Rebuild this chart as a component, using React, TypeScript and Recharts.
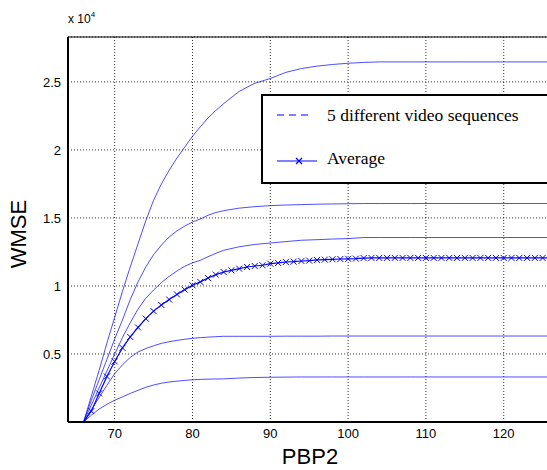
import React from 'react';
import { LineChart, Line, XAxis, YAxis, CartesianGrid, ReferenceLine, Label } from 'recharts';

// PBP2 knots used by the five thin curves
const seqX = [64, 65, 66, 67, 68, 69, 70, 71, 72, 73, 74, 75, 76, 77, 78, 79, 80, 81, 82, 83, 84, 86, 88, 90, 92, 94, 96, 98, 100, 102, 104, 108, 114, 120, 126];
const seq1 = [0, 0, 0, 1900, 3800, 5800, 7700, 9600, 11400, 13100, 14800, 16300, 17500, 18500, 19400, 20200, 21000, 21700, 22350, 22900, 23400, 24300, 24900, 25250, 25700, 25980, 26160, 26280, 26370, 26430, 26470, 26470, 26470, 26470, 26470];
const seq2 = [0, 0, 0, 1600, 3100, 4600, 6100, 7500, 9000, 10300, 11400, 12300, 13000, 13600, 14050, 14400, 14700, 14920, 15200, 15400, 15535, 15720, 15830, 15905, 15950, 15980, 16010, 16030, 16045, 16060, 16060, 16060, 16060, 16060, 16060];
const seq3 = [0, 0, 0, 1250, 2500, 3750, 5000, 6200, 7300, 8300, 9100, 9700, 10250, 10700, 11100, 11450, 11700, 11885, 12150, 12400, 12620, 12880, 13050, 13155, 13260, 13360, 13400, 13450, 13480, 13560, 13560, 13560, 13560, 13560, 13560];
const seq4 = [0, 0, 0, 900, 1800, 2700, 3550, 4200, 4750, 5150, 5400, 5600, 5780, 5900, 6000, 6080, 6150, 6200, 6240, 6270, 6300, 6300, 6300, 6300, 6310, 6310, 6310, 6320, 6320, 6320, 6320, 6320, 6320, 6320, 6320];
const seq5 = [0, 0, 0, 500, 950, 1300, 1600, 1850, 2100, 2330, 2550, 2720, 2850, 2940, 3000, 3060, 3100, 3130, 3150, 3160, 3170, 3230, 3270, 3290, 3300, 3310, 3310, 3310, 3310, 3310, 3310, 3310, 3310, 3310, 3310];

// average curve, one value per integer PBP2 from 64 to 126
const avgX = [64, 65, 66, 67, 68, 69, 70, 71, 72, 73, 74, 75, 76, 77, 78, 79, 80, 81, 82, 83, 84, 85, 86, 87, 88, 89, 90, 91, 92, 93, 94, 95, 96, 97, 98, 99, 100, 101, 102, 103, 104, 105, 106, 107, 108, 109, 110, 111, 112, 113, 114, 115, 116, 117, 118, 119, 120, 121, 122, 123, 124, 125, 126];
const avgY = [0, 0, 0, 800, 2100, 3350, 4450, 5450, 6250, 6950, 7600, 8150, 8600, 9000, 9380, 9730, 10050, 10300, 10580, 10830, 11025, 11150, 11275, 11395, 11465, 11520, 11640, 11690, 11760, 11790, 11835, 11860, 11910, 11935, 11960, 11980, 11995, 12010, 12050, 12060, 12060, 12060, 12060, 12060, 12060, 12060, 12060, 12060, 12060, 12060, 12060, 12060, 12060, 12060, 12060, 12060, 12060, 12060, 12060, 12060, 12060, 12060, 12060];

const xTicks = [70, 80, 90, 100, 110, 120];
const yTicks = [0, 5000, 10000, 15000, 20000, 25000];

const toPts = (xs: number[], ys: number[]) => xs.map((x, i) => ({ x, y: ys[i] }));
const sequences = [seq1, seq2, seq3, seq4, seq5].map(s => toPts(seqX, s));
const avgData = toPts(avgX, avgY);

const SANS = '"Liberation Sans", Arial, sans-serif';
const SERIF = '"Liberation Serif", "Times New Roman", serif';
const BLUE = '#0000ff';

function CrossDot(props: any) {
  const { cx, cy, payload } = props;
  if (cx == null || cy == null || !payload || payload.y === 0) return null;
  const r = 3;
  return (
    <path
      d={`M${cx - r},${cy - r}L${cx + r},${cy + r}M${cx - r},${cy + r}L${cx + r},${cy - r}`}
      stroke={BLUE}
      strokeWidth={1}
      fill="none"
    />
  );
}

export default function App() {
  return (
    <div style={{ position: 'fixed', left: 0, top: 0, width: 547, height: 470, overflow: 'hidden', background: '#fff' }}>
      <LineChart width={560} height={470} margin={{ top: 37, right: 9.6, left: 8, bottom: 18 }}>
        <CartesianGrid stroke="#000" strokeDasharray="1 2" strokeWidth={0.8} />
        <XAxis
          type="number"
          dataKey="x"
          domain={[64, 126]}
          ticks={xTicks}
          height={30}
          allowDataOverflow
          axisLine={{ stroke: '#000', strokeWidth: 2 }}
          tickLine={false}
          tickSize={5}
          tickMargin={2}
          tick={{ fontSize: 13, fill: '#000', fontFamily: SANS }}
        >
          <Label
            content={() => (
              <text x={310} y={464} textAnchor="middle" fontSize={22} fontFamily={SANS} fill="#000">PBP2</text>
            )}
          />
        </XAxis>
        <YAxis
          type="number"
          domain={[0, 28300]}
          ticks={yTicks}
          width={60}
          allowDataOverflow
          axisLine={{ stroke: '#000', strokeWidth: 2 }}
          tickLine={false}
          tickSize={5}
          tickMargin={2}
          tickFormatter={(v: number) => (v === 0 ? '' : String(v / 10000))}
          tick={{ fontSize: 13, fill: '#000', fontFamily: SANS }}
        >
          <Label
            content={() => (
              <text x={26} y={234} transform="rotate(-90 26 234)" textAnchor="middle" fontSize={22} fontFamily={SANS} fill="#000">WMSE</text>
            )}
          />
        </YAxis>
        <ReferenceLine y={28300} stroke="#000" strokeWidth={1.2} />
        {sequences.map((d, i) => (
          <Line
            key={i}
            data={d}
            dataKey="y"
            type="linear"
            stroke={BLUE}
            strokeWidth={0.7}
            dot={false}
            activeDot={false}
            isAnimationActive={false}
          />
        ))}
        <Line
          data={avgData}
          dataKey="y"
          type="linear"
          stroke={BLUE}
          strokeWidth={1.2}
          dot={<CrossDot />}
          activeDot={false}
          isAnimationActive={false}
        />
      </LineChart>

      <div style={{ position: 'absolute', left: 68, top: 11, fontFamily: SANS, fontSize: 12, color: '#000', whiteSpace: 'nowrap' }}>
        x 10<sup style={{ fontSize: 8, position: 'relative', top: -1 }}>4</sup>
      </div>

      <div
        style={{
          position: 'absolute', left: 261, top: 94, width: 320, height: 90, boxSizing: 'border-box',
          border: '2px solid #000', background: '#fff', fontFamily: SERIF, fontSize: 17.5, color: '#000',
        }}
      >
        <svg width={60} height={86} style={{ position: 'absolute', left: 0, top: 0 }}>
          <line x1={14} x2={50} y1={19} y2={19} stroke={BLUE} strokeWidth={1.2} strokeDasharray="7 5" />
          <line x1={14} x2={54} y1={65} y2={65} stroke={BLUE} strokeWidth={1.2} />
          <path d="M33,62L39,68M33,68L39,62" stroke={BLUE} strokeWidth={1.2} />
        </svg>
        <div style={{ position: 'absolute', left: 64, top: 9, whiteSpace: 'nowrap' }}>5 different video sequences</div>
        <div style={{ position: 'absolute', left: 64, top: 52, whiteSpace: 'nowrap' }}>Average</div>
      </div>
    </div>
  );
}
